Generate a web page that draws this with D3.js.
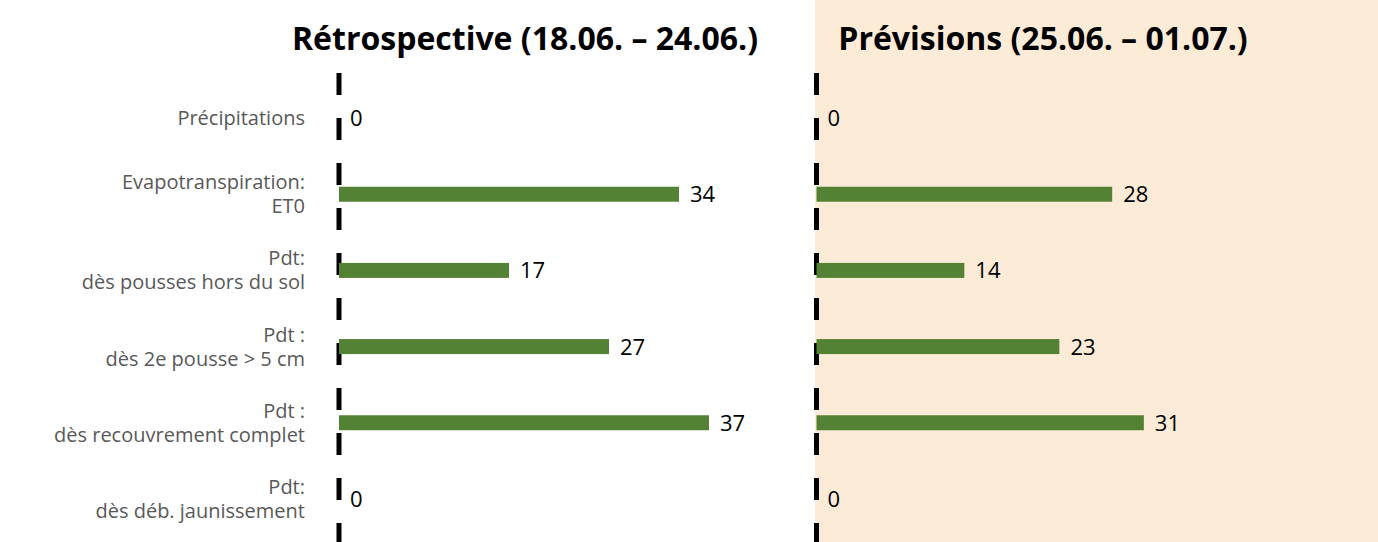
<!DOCTYPE html>
<html>
<head>
<meta charset="utf-8">
<script src="https://cdn.jsdelivr.net/npm/d3@7"></script>
<style>
  body { margin: 0; background: #fff; }
  svg { display: block; font-family: "Open Sans", sans-serif; }
</style>
</head>
<body>
<div id="chart"></div>
<script>
// categories, one entry per row (lines split on "\n")
var categories = [
    "Précipitations",
    "Evapotranspiration:\nET0",
    "Pdt:\ndès pousses hors du sol",
    "Pdt :\ndès 2e pousse > 5 cm",
    "Pdt :\ndès recouvrement complet",
    "Pdt:\ndès déb. jaunissement"
];
var retroValues = [0, 34, 17, 27, 37, 0];
var prevValues = [0, 28, 14, 23, 31, 0];
var retroTitle = "Rétrospective (18.06. – 24.06.)";
var prevTitle = "Prévisions (25.06. – 01.07.)";

var w = 1378, h = 542;
var barColor = "#548235";

var svg = d3.select("#chart").append("svg")
    .attr("width", w)
    .attr("height", h);

// peach background behind the forecast panel
svg.append("rect")
    .attr("x", 815).attr("y", 0)
    .attr("width", w - 815).attr("height", h)
    .attr("fill", "#fcebd7");

var y = d3.scaleBand()
    .domain(categories)
    .range([80, 537]);

var panels = [
    {title: retroTitle, values: retroValues, x0: 339, pxPerUnit: 10, titleX: 525, labels: true},
    {title: prevTitle, values: prevValues, x0: 816.5, pxPerUnit: 10.56, titleX: 1043, labels: false}
];

panels.forEach(function(p) {
    var x = d3.scaleLinear()
        .domain([0, 40])
        .range([p.x0, p.x0 + 40 * p.pxPerUnit]);

    var g = svg.append("g");

    g.append("text")
        .attr("x", p.titleX)
        .attr("y", 50)
        .attr("text-anchor", "middle")
        .attr("font-size", "32px")
        .attr("font-weight", "bold")
        .attr("fill", "#000")
        .text(p.title);

    // category labels through a left axis (left panel only)
    if (p.labels) {
        var ax = g.append("g")
            .attr("transform", "translate(" + x(0) + ",0)")
            .call(d3.axisLeft(y).tickSize(0).tickPadding(34));
        ax.select(".domain").remove();
        ax.selectAll("text")
            .attr("font-family", "'Open Sans', sans-serif")
            .attr("font-size", "20px")
            .attr("fill", "#595959")
            .each(function(d) {
                var lines = d.split("\n");
                var t = d3.select(this).text(null).attr("dy", null);
                lines.forEach(function(line, i) {
                    t.append("tspan")
                        .attr("x", -34)
                        .attr("dy", i == 0 ? (0.35 - (lines.length - 1) * 0.6) + "em" : "1.2em")
                        .text(line);
                });
            });
    }

    // dashed axis line
    g.append("line")
        .attr("x1", x(0)).attr("x2", x(0))
        .attr("y1", 73).attr("y2", h)
        .attr("stroke", "#000")
        .attr("stroke-width", 5)
        .attr("stroke-dasharray", "22 23");

    g.selectAll("rect.bar")
        .data(p.values)
        .enter().append("rect")
        .attr("class", "bar")
        .attr("x", x(0))
        .attr("y", function(d, i) { return y(categories[i]) + y.bandwidth() / 2 - 7.5; })
        .attr("width", function(d) { return x(d) - x(0); })
        .attr("height", 15)
        .attr("fill", barColor);

    g.selectAll("text.val")
        .data(p.values)
        .enter().append("text")
        .attr("class", "val")
        .attr("x", function(d) { return x(d) + 11; })
        .attr("y", function(d, i) { return y(categories[i]) + y.bandwidth() / 2; })
        .attr("dy", ".36em")
        .attr("font-size", "22px")
        .attr("fill", "#000")
        .text(String);
});
</script>
</body>
</html>
